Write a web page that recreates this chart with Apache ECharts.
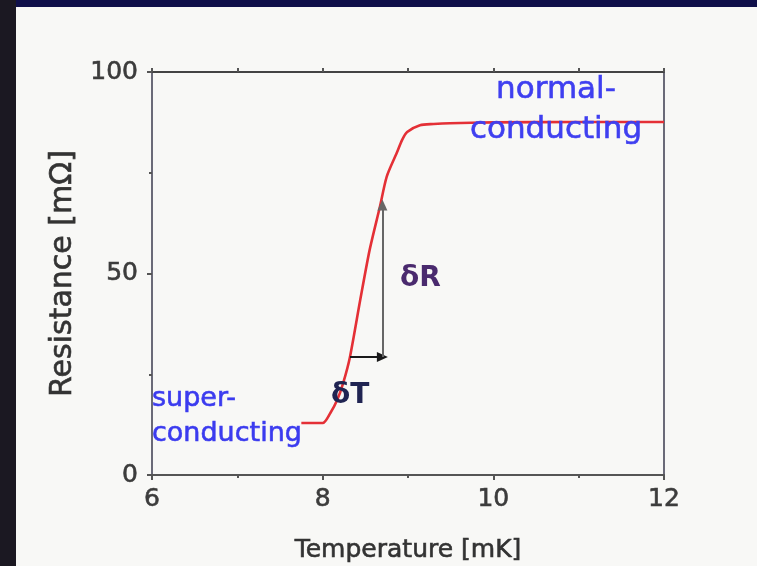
<!DOCTYPE html>
<html>
<head>
<meta charset="utf-8">
<script src="https://cdn.jsdelivr.net/npm/echarts@6/dist/echarts.min.js"></script>
<style>
  html, body { margin: 0; padding: 0; background: #f8f8f6; }
  #chart { width: 757px; height: 566px; }
</style>
</head>
<body>
<div id="chart"></div>
<script>
// ---- data ----
var temperature = [7.75, 8.0, 8.09, 8.17, 8.24, 8.32, 8.44, 8.55, 8.67, 8.75, 8.87, 8.93, 8.99, 9.14, 9.3, 9.49, 10, 11, 12];
var resistance  = [12.9, 12.9, 15.4, 18.6, 22.8, 29.3, 43.4, 55.8, 66.5, 74.0, 80.0, 83.1, 85.1, 86.8, 87.1, 87.3, 87.5, 87.6, 87.6];
var xTicks = { min: 6, max: 12, interval: 2 };
var yTicks = { min: 0, max: 100, interval: 50 };
var deltaTArrow = [[8.32, 29.3], [8.70, 29.3]];
var deltaRArrow = [[8.70, 29.3], [8.70, 67.0]];
var xTitle = 'Temperature [mK]';
var yTitle = 'Resistance [mΩ]';

var curve = temperature.map(function (t, i) { return [t, resistance[i]]; });

var chart = echarts.init(document.getElementById('chart'), null, { renderer: 'canvas' });
var axisCol = '#555';
var font = 'DejaVu Sans';
function heavy(col, w) { return { textBorderColor: col, textBorderWidth: w }; }
var option = {
  animation: false,
  backgroundColor: '#f8f8f6',
  grid: { left: 152, right: 93, top: 72, bottom: 91, containLabel: false, outerBoundsMode: 'none' },
  xAxis: [{
    type: 'value', position: 'bottom',
    min: xTicks.min, max: xTicks.max, interval: xTicks.interval,
    name: xTitle, nameLocation: 'middle', nameGap: 63,
    nameTextStyle: Object.assign({ fontFamily: font, fontSize: 25, color: '#333' }, heavy('#333', 0.6)),
    axisLine: { show: true, onZero: false, lineStyle: { color: axisCol, width: 2 } },
    axisTick: { show: true, length: 5, lineStyle: { color: axisCol, width: 2 } },
    minorTick: { show: true, splitNumber: 2, length: 3, lineStyle: { color: axisCol, width: 2 } },
    axisLabel: Object.assign({ fontFamily: font, fontSize: 25, color: '#3c3c3c', margin: 12 }, heavy('#3c3c3c', 0.6)),
    splitLine: { show: false }
  }, {
    type: 'value', position: 'top',
    min: xTicks.min, max: xTicks.max, interval: xTicks.interval / 2,
    axisLine: { show: true, onZero: false, lineStyle: { color: '#444', width: 2 } },
    axisTick: { show: true, length: 4, lineStyle: { color: axisCol, width: 2 } },
    axisLabel: { show: false },
    splitLine: { show: false }
  }],
  yAxis: [{
    type: 'value', position: 'left',
    min: yTicks.min, max: yTicks.max, interval: yTicks.interval,
    name: yTitle, nameLocation: 'middle', nameGap: 74, nameRotate: 90,
    nameTextStyle: Object.assign({ fontFamily: font, fontSize: 30, color: '#333' }, heavy('#333', 0.6)),
    axisLine: { show: true, onZero: false, lineStyle: { color: '#6a6a78', width: 2 } },
    axisTick: { show: true, length: 5, lineStyle: { color: axisCol, width: 2 } },
    minorTick: { show: true, splitNumber: 2, length: 3, lineStyle: { color: axisCol, width: 2 } },
    axisLabel: Object.assign({ fontFamily: font, fontSize: 25, color: '#3c3c3c', margin: 14 }, heavy('#3c3c3c', 0.6)),
    splitLine: { show: false }
  }, {
    type: 'value', position: 'right',
    min: yTicks.min, max: yTicks.max,
    axisLine: { show: true, onZero: false, lineStyle: { color: '#6a6a78', width: 2 } },
    axisTick: { show: false }, axisLabel: { show: false }, splitLine: { show: false }
  }],
  series: [{
    type: 'line',
    data: curve,
    showSymbol: false,
    smooth: 0.25,
    lineStyle: { color: '#e43036', width: 2.6 },
    z: 3
  }, {
    type: 'line',
    data: [],
    markLine: {
      silent: true,
      symbol: ['none', 'triangle'],
      symbolSize: [10, 11],
      label: { show: false },
      lineStyle: { type: 'solid', width: 2 },
      data: [
        [{ coord: deltaTArrow[0], lineStyle: { color: '#1a1a1a' }, itemStyle: { color: '#1a1a1a' } },
         { coord: deltaTArrow[1], itemStyle: { color: '#1a1a1a' } }],
        [{ coord: deltaRArrow[0], lineStyle: { color: '#666' }, itemStyle: { color: '#1a1a1a' } },
         { coord: deltaRArrow[1], itemStyle: { color: '#1a1a1a' } }]
      ]
    },
    z: 4
  }],
  graphic: [
    { type: 'rect', left: 0, top: 0, shape: { width: 757, height: 7 }, style: { fill: '#10104a' }, z: 100 },
    { type: 'rect', left: 0, top: 0, shape: { width: 16, height: 566 }, style: { fill: '#1b1822' }, z: 100 },
    { type: 'text', x: 152, y: 381, z: 10,
      style: { text: 'super-\nconducting', fill: '#3b3bef', font: '27px "DejaVu Sans"', lineHeight: 35,
               stroke: '#3b3bef', lineWidth: 0.6 } },
    { type: 'text', x: 556, y: 70, z: 10,
      style: { text: 'normal-\nconducting', fill: '#3f3ff0', font: '31px "DejaVu Sans"', lineHeight: 40,
               align: 'center', verticalAlign: 'top', stroke: '#3f3ff0', lineWidth: 0.6 } },
    { type: 'text', x: 400, y: 265, z: 10,
      style: { text: 'δR', fill: '#4a2a6e', font: 'bold 28px "DejaVu Sans"' } },
    { type: 'text', x: 331, y: 382, z: 10,
      style: { text: 'δT', fill: '#202452', font: 'bold 28px "DejaVu Sans"' } }
  ]
};
chart.setOption(option);
</script>
</body>
</html>
